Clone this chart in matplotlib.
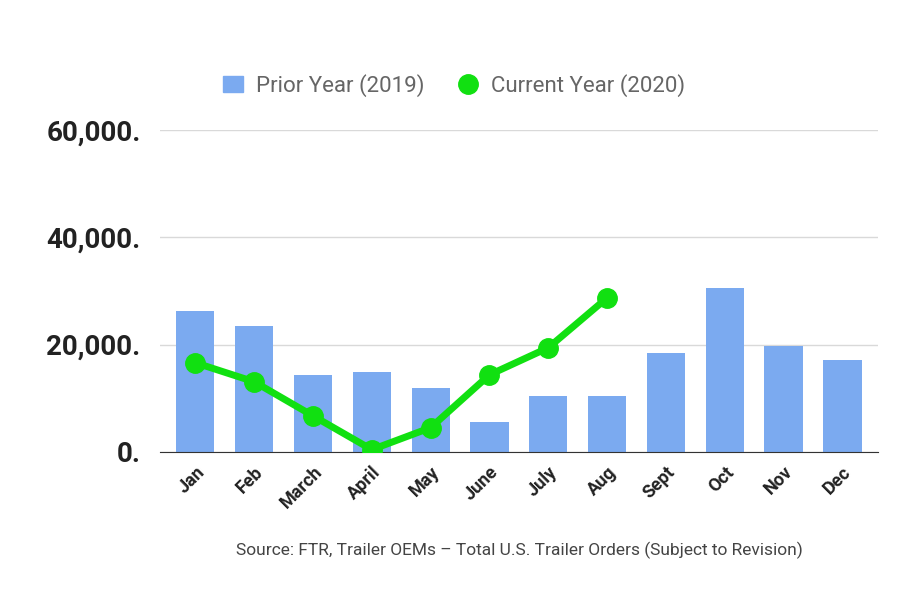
import matplotlib
matplotlib.use("Agg")
import matplotlib.pyplot as plt
from matplotlib.ticker import FuncFormatter
from matplotlib.lines import Line2D
from matplotlib.patches import Patch

months = ["Jan","Feb","March","April","May","June","July","Aug","Sept","Oct","Nov","Dec"]
prior_2019 = [26300,23500,14400,14900,11900,5600,10400,10400,18450,30600,19800,17200]
current_2020 = [16600,13050,6700,400,4500,14350,19400,28700]

plt.rcParams['font.family'] = ['Roboto', 'DejaVu Sans']
fig = plt.figure(figsize=(9.2,6.13), dpi=100)
ax = fig.add_axes([0.174,0.263,0.78,0.525])
x = list(range(len(months)))
ax.bar(x, prior_2019, width=0.65, color='#7baaf0', zorder=2)
ax.plot(x[:len(current_2020)], current_2020, color='#11e011', lw=5, marker='o', ms=14, zorder=3)
ax.set_ylim(0,60000)
ax.set_xlim(-0.6,11.6)
ax.set_yticks([0,20000,40000,60000])
ax.yaxis.set_major_formatter(FuncFormatter(lambda v,p: f"{int(v):,}."))
for lab in ax.get_yticklabels():
    lab.set_fontsize(20); lab.set_fontweight('bold'); lab.set_color('#222222')
ax.set_xticks(x)
ax.set_xticklabels(months, rotation=45, ha='right', rotation_mode='anchor', fontsize=13, fontweight='bold', color='#222222')
ax.tick_params(axis='y', length=0, pad=14)
ax.tick_params(axis='x', length=0, pad=8)
ax.grid(axis='y', color='#d9d9d9', lw=1, zorder=0)
for s in ['top','right','left']:
    ax.spines[s].set_visible(False)
ax.spines['bottom'].set_color('#333333')
handles = [Patch(color='#7baaf0'), Line2D([], [], color='#11e011', marker='o', ls='', ms=14)]
ax.legend(handles, ['Prior Year (2019)', 'Current Year (2020)'], loc='lower center',
          bbox_to_anchor=(0.41,1.04), ncol=2, frameon=False,
          fontsize=16, labelcolor='#666666', handlelength=0.9, handletextpad=0.6, columnspacing=1.5)
fig.text(0.565,0.095,"Source: FTR, Trailer OEMs – Total U.S. Trailer Orders (Subject to Revision)",
         ha='center', fontsize=12.5, color='#444444')
fig.savefig("out.png", dpi=100)
